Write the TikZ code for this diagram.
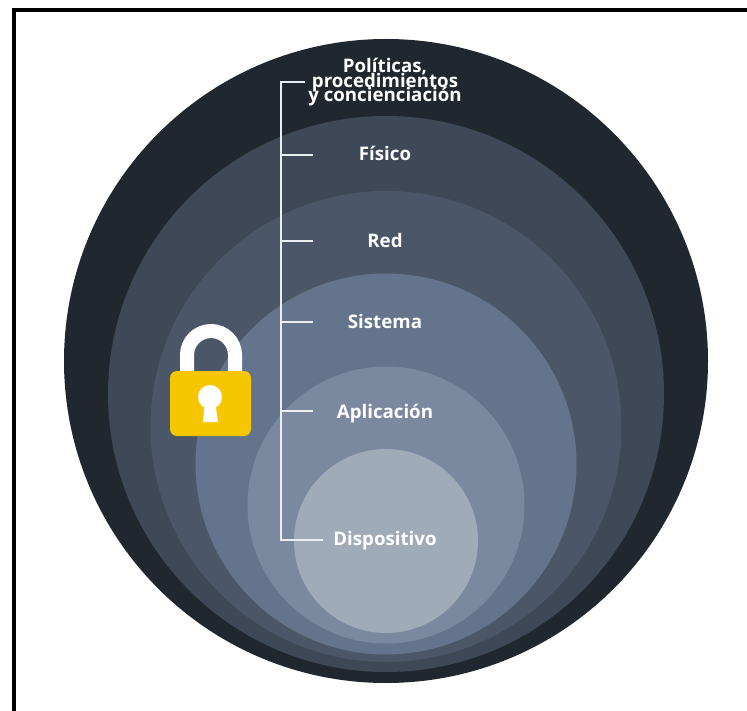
\documentclass[tikz,border=0pt]{standalone}
\usepackage{fontspec}
\setmainfont{Open Sans}
\usepackage{tikz}

\definecolor{ringa}{HTML}{20272F}
\definecolor{ringb}{HTML}{3E4856}
\definecolor{ringc}{HTML}{4B5769}
\definecolor{ringd}{HTML}{64748D}
\definecolor{ringe}{HTML}{7A899F}
\definecolor{ringf}{HTML}{A0ABBA}
\definecolor{lockyellow}{HTML}{F6C700}
\definecolor{linewhite}{HTML}{E9EEF3}

\tikzset{
  layerlabel/.style={text=white,font=\bfseries\fontsize{18.7}{15}\selectfont,inner sep=0pt,anchor=base},
  layerline/.style={linewhite,line width=2.8pt}
}

\begin{document}
\begin{tikzpicture}[x=1pt,y=-1pt]
\useasboundingbox (0,0) rectangle (747,711);

% Frame
\draw[line width=4pt,black] (14,711) -- (14,10) -- (747,10);

% Rings
\fill[ringa] (386,361) circle (322pt);
\fill[ringb] (386,394) circle (278pt);
\fill[ringc] (386,426.5) circle (235.5pt);
\fill[ringd] (386,464) circle (190.5pt);
\fill[ringe] (386,505) circle (138.5pt);
\fill[ringf] (386,541) circle (92pt);

% Lock
\draw[white,line width=14pt] (187,375) -- (187,355) arc (180:360:24 and 24) -- (235,375);
\fill[lockyellow,rounded corners=7pt] (170,371) rectangle (251,436);
\fill[white] (210,397) circle (12pt);
\fill[white] (205,400) -- (215,400) -- (218,422) -- (203,422) -- cycle;

% Labels
\node[layerlabel] (politicas) at (385,73) {Políticas,};
\node[layerlabel] (procedimientos) at (385,87.5) {procedimientos};
\node[layerlabel] (concienciacion) at (385,102) {y concienciación};
\node[layerlabel] (fisico) at (385,161) {Físico};
\node[layerlabel] (red) at (385,248) {Red};
\node[layerlabel] (sistema) at (385,329) {Sistema};
\node[layerlabel] (aplicacion) at (385,418) {Aplicación};
\node[layerlabel] (dispositivo) at (385,545) {Dispositivo};

% Lines
\coordinate (spinetop) at (281,82);
\coordinate (spineend) at (281,540);
\coordinate (policytick) at (305,82);
\coordinate (dispositivotick) at (323,540);
\draw[layerline] (policytick) -- (spinetop) -- (spineend) -- (dispositivotick);
\foreach \name/\y in {fisico/155,red/241,sistema/322,aplicacion/411}
{
  \coordinate (\name tick) at (313,\y);
  \draw[layerline] (281,\y) -- (\name tick);
}

\end{tikzpicture}
\end{document}
